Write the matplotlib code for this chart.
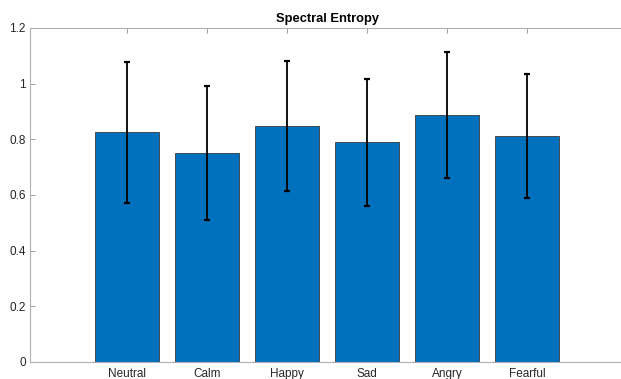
import matplotlib
matplotlib.use("Agg")
import matplotlib.pyplot as plt

# valores
emotions = ["Neutral", "Calm", "Happy", "Sad", "Angry", "Fearful"]
entropy_mean = [0.826, 0.750, 0.848, 0.789, 0.886, 0.813]
entropy_err = [0.253, 0.241, 0.234, 0.228, 0.226, 0.222]

plt.rcParams["font.family"] = ["Liberation Sans", "DejaVu Sans"]

fig = plt.figure(figsize=(6.21, 3.79), dpi=100)
ax = fig.add_axes([30 / 621, 17 / 379, 596 / 621, 334 / 379])

x = list(range(1, len(emotions) + 1))
ax.bar(x, entropy_mean, width=0.8, color="#0072BD",
       edgecolor="#3a3a3a", linewidth=0.6, zorder=2)
ax.errorbar(x, entropy_mean, yerr=entropy_err, fmt="none", ecolor="black",
            elinewidth=1.3, capsize=2.2, capthick=1.6, zorder=3)

ax.set_xlim(-0.2125, -0.2125 + 596 / 80)
ax.set_ylim(0, 1.2)
ax.set_xticks(x)
ax.set_xticklabels(emotions)
ax.set_yticks([0, 0.2, 0.4, 0.6, 0.8, 1.0, 1.2])
ax.set_yticklabels(["0", "0.2", "0.4", "0.6", "0.8", "1", "1.2"])

for s in ax.spines.values():
    s.set_color("#b0b0b0")
    s.set_linewidth(0.8)
ax.tick_params(direction="in", length=3.5, width=0.7, color="#a0a0a0",
               labelsize=8.5, labelcolor="#262626", top=True, right=True)
ax.tick_params(axis="x", pad=4.5)
ax.tick_params(axis="y", pad=3)

ax.set_title("Spectral Entropy", fontsize=9.3, fontweight="bold", pad=4)

fig.savefig("out.png", dpi=100)
